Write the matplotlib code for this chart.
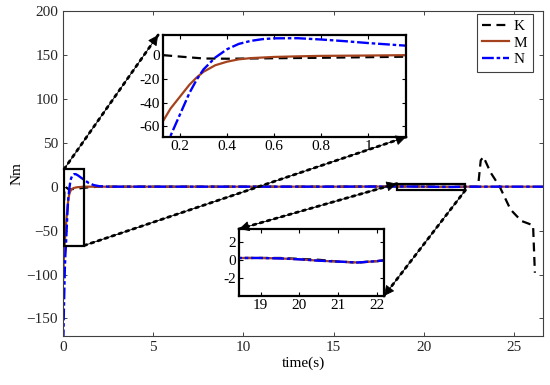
import matplotlib
matplotlib.use("Agg")
import matplotlib.pyplot as plt
from matplotlib.patches import Rectangle, ConnectionPatch

plt.rcParams['font.family'] = ['Liberation Serif', 'DejaVu Serif']
plt.rcParams['font.size'] = 11

# ---- data ----
t_K = [0, 0.04, 0.08, 0.13, 0.2, 0.3, 0.4, 0.5, 0.6, 0.8, 1.0, 1.16, 1.4, 2.0, 5, 10, 15,
       18.4, 19.0, 19.5, 20.0, 20.5, 21.0, 21.5, 22.0, 22.3, 23.0, 23.15, 23.3, 23.7,
       24.2, 24.8, 25.4, 26.05, 26.15]
K = [-65, -30, -5, 0, -1.2, -2.8, -3.0, -2.8, -2.6, -2.2, -1.7, -1.3, -0.8, 0, 0, 0, 0,
     0.2, 0.2, 0.2, 0.1, 0.0, -0.2, -0.3, -0.15, 0, 0, 30, 34, 16,
     0, -26, -39, -44, -98]

t_M = [0, 0.04, 0.08, 0.13, 0.16, 0.2, 0.24, 0.27, 0.3, 0.35, 0.4, 0.45, 0.5, 0.6, 0.7,
       0.8, 1.0, 1.16, 1.5, 2.0, 5, 10, 15,
       18.4, 19.0, 19.5, 20.0, 20.5, 21.0, 21.5, 22.0, 22.3, 26.6]
M = [-110, -85, -68, -55, -45, -35, -25, -19, -14, -8.5, -5.5, -3.5, -2.5, -1.5, -1.0,
     -0.6, -0.3, 0, 0, 0, 0, 0, 0,
     0.2, 0.2, 0.15, 0.05, -0.1, -0.2, -0.3, -0.15, 0, 0]

t_N = [0, 0.05, 0.1, 0.13, 0.16, 0.2, 0.24, 0.27, 0.3, 0.35, 0.4, 0.45, 0.5, 0.55, 0.6,
       0.7, 0.8, 0.9, 1.0, 1.16, 1.4, 1.7, 2.0, 2.5, 5, 10, 15,
       18.4, 19.0, 19.5, 20.0, 20.5, 21.0, 21.5, 22.0, 22.3, 26.6]
N = [-200, -140, -95, -78, -68, -50, -32, -21, -12, -2, 5, 9.5, 12, 13.5, 14.2,
     14.3, 13.2, 11.8, 10.2, 8, 4.5, 1.8, 0.6, 0, 0, 0, 0,
     0.2, 0.2, 0.15, 0.05, -0.1, -0.2, -0.3, -0.15, 0, 0]

main_xticks = [0, 5, 10, 15, 20, 25]
main_yticks = [-150, -100, -50, 0, 50, 100, 150, 200]
main_ylabels = ['\u2212150', '\u2212100', '\u221250', '0', '50', '100', '150', '200']
in1_xticks = [0.2, 0.4, 0.6, 0.8, 1.0]
in1_xlabels = ['0.2', '0.4', '0.6', '0.8', '1']
in1_yticks = [-60, -40, -20, 0]
in1_ylabels = ['-60', '-40', '-20', '0']
in2_xticks = [19, 20, 21, 22]
in2_yticks = [-2, 0, 2]
in2_ylabels = ['-2', '0', '2']
labels = ['K', 'M', 'N']

cK = 'black'
cM = '#A5421E'
cN = '#0000FF'


def draw(ax, lwK=1.6, lwM=1.6, lwN=1.7):
    ax.plot(t_K, K, color=cK, ls=(0, (4, 2.5)), lw=lwK, label=labels[0])
    ax.plot(t_M, M, color=cM, ls='-', lw=lwM, label=labels[1])
    ax.plot(t_N, N, color=cN, ls=(0, (5, 1.2, 1.5, 1.2)), lw=lwN, label=labels[2])


fig = plt.figure(figsize=(5.5, 3.85), dpi=100)
ax = fig.add_axes([63/550, 1-336/385, 480/550, 325/385])
draw(ax)
ax.set_xlim(0, 26.6)
ax.set_ylim(-170, 200)
ax.set_xticks(main_xticks)
ax.set_yticks(main_yticks)
ax.set_yticklabels(main_ylabels)
ax.set_xlabel('time(s)', labelpad=2)
ax.set_ylabel('Nm', labelpad=2)
ax.tick_params(direction='in', top=True, right=True, length=3, width=0.6, colors='#262626')
for s in ax.spines.values():
    s.set_color('#404040')
    s.set_linewidth(0.8)
leg = ax.legend(loc='upper right', bbox_to_anchor=(0.979, 0.991), borderaxespad=0,
                fancybox=False, edgecolor='#404040', framealpha=1,
                handlelength=1.8, labelspacing=0.2, borderpad=0.35, handletextpad=0.3)
leg.get_frame().set_linewidth(0.8)

# zoom rectangles
r1 = (0.06, -67, 1.11, 87)
r2 = (18.5, -4, 3.8, 7.5)
ax.add_patch(Rectangle(r1[:2], r1[2], r1[3], fill=False, ec='black', lw=1.6, zorder=5))
ax.add_patch(Rectangle(r2[:2], r2[2], r2[3], fill=False, ec='black', lw=1.6, zorder=5))

# inset 1
ax1 = fig.add_axes([163/550, 1-137/385, 243/550, 102/385])
draw(ax1)
ax1.set_xlim(0.128, 1.16)
ax1.set_ylim(-69, 17)
ax1.set_xticks(in1_xticks)
ax1.set_xticklabels(in1_xlabels)
ax1.set_yticks(in1_yticks)
ax1.set_yticklabels(in1_ylabels)
ax1.tick_params(direction='in', top=True, right=True, length=3, width=0.8, pad=2)
for s in ax1.spines.values():
    s.set_linewidth(1.6)

# inset 2
ax2 = fig.add_axes([239/550, 1-296/385, 145/550, 67/385])
draw(ax2)
ax2.set_xlim(18.44, 22.18)
ax2.set_ylim(-4, 3.4)
ax2.set_xticks(in2_xticks)
ax2.set_yticks(in2_yticks)
ax2.set_yticklabels(in2_ylabels)
ax2.tick_params(direction='in', top=True, right=True, length=3, width=0.8, pad=2)
for s in ax2.spines.values():
    s.set_linewidth(1.6)

# connecting dotted arrows
def conn(xyA, axA, xyB, axB, style):
    cp = ConnectionPatch(xyA=xyA, coordsA=axA, xyB=xyB, coordsB=axB,
                         arrowstyle='-', linestyle=':', linewidth=2.0, color='black',
                         zorder=10, shrinkA=0, shrinkB=0)
    fig.add_artist(cp)
    ah = ConnectionPatch(xyA=xyA, coordsA=axA, xyB=xyB, coordsB=axB,
                         arrowstyle=style, linestyle='-', linewidth=0.6, color='black',
                         mutation_scale=16, zorder=11, shrinkA=0, shrinkB=0)
    ah.set_alpha(None)
    fig.add_artist(ah)

conn((r1[0], r1[1] + r1[3]), ax.transData, (-0.02, 1.0), ax1.transAxes, '-|>')
conn((r1[0] + r1[2], r1[1]), ax.transData, (1.0, 0.0), ax1.transAxes, '-|>')
conn((0.0, 1.0), ax2.transAxes, (r2[0], r2[1] + r2[3]), ax.transData, '<|-|>')
conn((r2[0] + r2[2], r2[1]), ax.transData, (1.0, 0.0), ax2.transAxes, '-|>')

fig.savefig('out.png', dpi=100)
